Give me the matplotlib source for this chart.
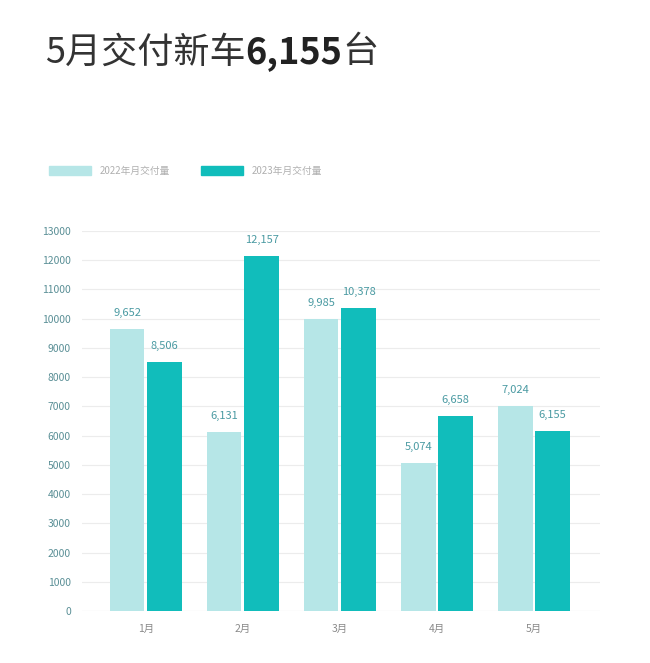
import numpy as np
import matplotlib.pyplot as plt
from matplotlib.patches import Patch

plt.rcParams['font.family'] = ['Noto Sans CJK SC', 'DejaVu Sans']

# dades
months = ['1月', '2月', '3月', '4月', '5月']
deliveries_2022 = [9652, 6131, 9985, 5074, 7024]
deliveries_2023 = [8506, 12157, 10378, 6658, 6155]
series_labels = ['2022年月交付量', '2023年月交付量']

light = '#b6e6e7'
dark = '#11bdbb'

fig = plt.figure(figsize=(6.5, 6.63), dpi=100)
ax = fig.add_axes([0.126, 0.0784, 0.797, 0.5732])

x = np.arange(len(months))
w = 0.355
b1 = ax.bar(x - w / 2 - 0.015, deliveries_2022, w, color=light)
b2 = ax.bar(x + w / 2 + 0.015, deliveries_2023, w, color=dark)

for bars, vals in [(b1, deliveries_2022), (b2, deliveries_2023)]:
    for r, v in zip(bars, vals):
        ax.annotate(f'{v:,}', (r.get_x() + r.get_width() / 2, v), xytext=(0, 8),
                    textcoords='offset points', ha='center', va='bottom',
                    fontsize=8, color='#4a9aa2')

ax.set_xlim(-0.66, 4.68)
ax.set_ylim(0, 13000)
ax.set_yticks(range(0, 13001, 1000))
ax.set_xticks(x)
ax.set_xticklabels(months)
ax.tick_params(axis='y', length=0, labelsize=7.5, labelcolor='#5a8f96', pad=8)
ax.tick_params(axis='x', length=0, labelsize=7.5, labelcolor='#8a8a8a', pad=9)
ax.grid(axis='y', color='#ececec', linewidth=0.8)
ax.set_axisbelow(True)
for s in ax.spines.values():
    s.set_visible(False)
ax.axhline(0, color='#e2e2e2', linewidth=0.8, zorder=0)

handles = [Patch(color=light), Patch(color=dark)]
fig.legend(handles, series_labels, loc='center left', bbox_to_anchor=(0.062, 0.742),
           ncol=2, frameon=False, fontsize=7, labelcolor='#b0b0b0',
           handlelength=4.3, handleheight=1.1, handletextpad=0.9, columnspacing=3.2)

# títol, trossos col·locats un darrere l'altre
renderer = fig.canvas.get_renderer()
parts = [('5月交付新车', 'light', '#333333'), ('6,155', 'bold', '#222222'), ('台', 'light', '#333333')]
xpos = 0.069
for txt, wt, col in parts:
    t = fig.text(xpos, 0.921, txt, fontsize=26, color=col, va='center', fontweight=wt)
    bb = t.get_window_extent(renderer)
    xpos = bb.x1 / fig.bbox.width

fig.savefig('out.png', dpi=100)
